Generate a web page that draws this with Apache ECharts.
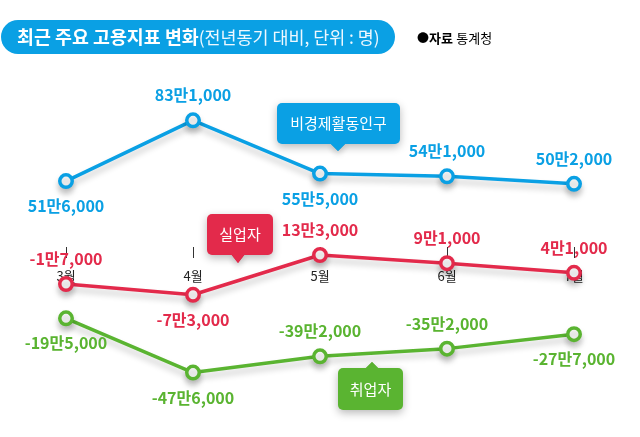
<!DOCTYPE html>
<html>
<head>
<meta charset="utf-8">
<script src="https://cdn.jsdelivr.net/npm/echarts@6/dist/echarts.min.js"></script>
<style>
html,body{margin:0;padding:0;background:#fff;}
#c{width:640px;height:437px;}
</style>
</head>
<body>
<div id="c"></div>
<script>
var categories = ['3월', '4월', '5월', '6월', '7월'];
var inactive = [516000, 831000, 555000, 541000, 502000];
var unemployed = [-17000, -73000, 133000, 91000, 41000];
var employed = [-195000, -476000, -392000, -352000, -277000];

var FONT = '"Noto Sans CJK KR", "Noto Sans", sans-serif';
var BLUE = '#0aa0e4', RED = '#e32a4b', GREEN = '#5ab431';

function fmt(v) {
  var s = v < 0 ? '-' : '';
  var a = Math.abs(v);
  var man = Math.floor(a / 10000);
  var rest = a % 10000;
  var r = rest.toLocaleString('en-US');
  return s + (man > 0 ? man + '만' : '') + (rest > 0 ? r : '');
}

function makeSeries(name, values, color, places) {
  return {
    name: name,
    type: 'line',
    data: values.map(function (v, i) {
      return { value: v, label: { position: places[i] } };
    }),
    symbol: 'circle',
    symbolSize: 12.5,
    showAllSymbol: true,
    lineStyle: { color: color, width: 3.5, shadowColor: 'rgba(0,0,0,0.22)', shadowBlur: 6, shadowOffsetY: 5 },
    itemStyle: { color: '#fff', borderColor: color, borderWidth: 3.5, shadowColor: 'rgba(0,0,0,0.22)', shadowBlur: 6, shadowOffsetY: 5 },
    label: {
      show: true, color: color, fontFamily: FONT, fontSize: 16, fontWeight: 'bold', distance: 9,
      formatter: function (p) { return fmt(p.value); }
    },
    emphasis: { disabled: true },
    animation: false
  };
}

function callout(x, y, w, h, text, color, tri) {
  return {
    type: 'group', x: x, y: y, z: 100,
    children: [
      { type: 'polygon', shape: { points: tri }, style: { fill: color, shadowColor: 'rgba(0,0,0,0.25)', shadowBlur: 6, shadowOffsetY: 3 } },
      { type: 'rect', shape: { x: 0, y: 0, width: w, height: h, r: 5 }, style: { fill: color, shadowColor: 'rgba(0,0,0,0.28)', shadowBlur: 8, shadowOffsetY: 3 } },
      { type: 'polygon', shape: { points: tri }, style: { fill: color } },
      { type: 'text', x: w / 2, y: h / 2, style: { text: text, fill: '#fff', font: '15px ' + FONT, textAlign: 'center', textVerticalAlign: 'middle' } }
    ]
  };
}

var chart = echarts.init(document.getElementById('c'), null, { renderer: 'canvas' });
chart.setOption({
  animation: false,
  grid: { left: 66, width: 508, top: 107, height: 289.5, containLabel: false },
  xAxis: {
    type: 'category', data: categories, boundaryGap: false,
    axisLine: { show: false, onZero: false },
    offset: -149.5,
    axisTick: { show: true, length: 11, lineStyle: { color: '#333', width: 1 } },
    axisLabel: { margin: 23, fontSize: 13, color: '#222', fontFamily: FONT },
    splitLine: { show: false }
  },
  yAxis: {
    type: 'value', min: -600000, max: 900000, show: false, splitLine: { show: false }
  },
  series: [
    makeSeries('취업자', employed, GREEN, ['bottom', 'bottom', 'top', 'top', 'bottom']),
    makeSeries('실업자', unemployed, RED, ['top', 'bottom', 'top', 'top', 'top']),
    makeSeries('비경제활동인구', inactive, BLUE, ['bottom', 'top', 'bottom', 'top', 'top'])
  ],
  graphic: [
    { type: 'rect', shape: { x: 1, y: 20, width: 394, height: 34, r: 17 }, style: { fill: BLUE } },
    { type: 'text', x: 17, y: 37, style: {
        text: '{b|최근 주요 고용지표 변화}{l|(전년동기 대비, 단위 : 명)}',
        textVerticalAlign: 'middle',
        rich: {
          b: { fontFamily: FONT, fontSize: 18.4, fontWeight: 'bold', fill: '#fff', color: '#fff' },
          l: { fontFamily: FONT, fontSize: 17.4, fontWeight: 'normal', fill: '#eef8ff', color: '#eef8ff' }
        }
      } },
    { type: 'text', x: 417, y: 38, style: {
        text: '{d|●}{b|자료} {n|통계청}',
        textVerticalAlign: 'middle',
        rich: {
          d: { fontFamily: FONT, fontSize: 12, color: '#000', fill: '#000' },
          b: { fontFamily: FONT, fontSize: 13, fontWeight: 'bold', color: '#000', fill: '#000' },
          n: { fontFamily: FONT, fontSize: 13, color: '#000', fill: '#000' }
        }
      } },
    callout(277, 103, 123, 41, '비경제활동인구', BLUE, [[53, 40], [61, 48], [69, 40]]),
    callout(207, 214, 66, 41, '실업자', RED, [[24, 40], [31, 49], [38, 40]]),
    callout(338, 368, 65, 42, '취업자', GREEN, [[27, 1], [34, -6], [41, 1]])
  ]
});
</script>
</body>
</html>
